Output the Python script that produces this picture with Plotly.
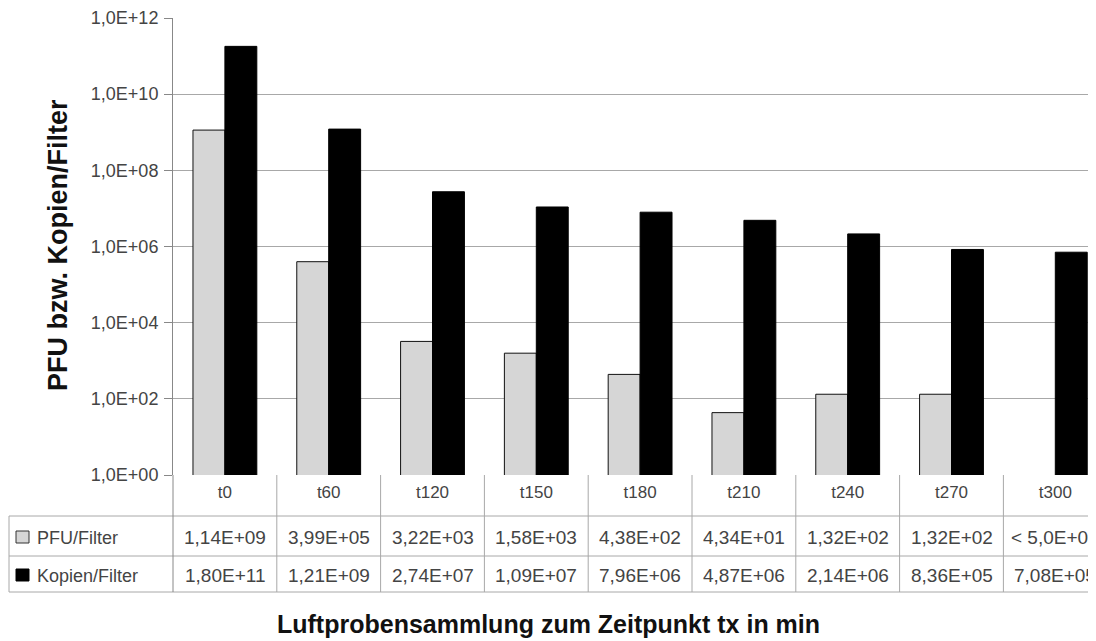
import plotly.graph_objects as go

categories = ["t0", "t60", "t120", "t150", "t180", "t210", "t240", "t270", "t300"]
pfu_values = [1.14e9, 3.99e5, 3.22e3, 1.58e3, 4.38e2, 4.34e1, 1.32e2, 1.32e2, None]
kopien_values = [1.80e11, 1.21e9, 2.74e7, 1.09e7, 7.96e6, 4.87e6, 2.14e6, 8.36e5, 7.08e5]
pfu_labels = ["1,14E+09", "3,99E+05", "3,22E+03", "1,58E+03", "4,38E+02", "4,34E+01", "1,32E+02", "1,32E+02", "< 5,0E+01"]
kopien_labels = ["1,80E+11", "1,21E+09", "2,74E+07", "1,09E+07", "7,96E+06", "4,87E+06", "2,14E+06", "8,36E+05", "7,08E+05"]
series_names = ["PFU/Filter", "Kopien/Filter"]
ytick_vals = [1, 1e2, 1e4, 1e6, 1e8, 1e10, 1e12]
ytick_text = ["1,0E+00", "1,0E+02", "1,0E+04", "1,0E+06", "1,0E+08", "1,0E+10", "1,0E+12"]

# page body has an 8px margin; work in screen coordinates and shift
OFF = 8
SW, SH = 1096, 641
W, H = SW - OFF, SH - OFF
L, T, B = 173 - OFF, 18 - OFF, 475 - OFF
PW = W - L
PH = B - T
CATW = 103.8

def px(sx):
    return (sx - OFF - L) / PW

def py(sy):
    return (B - (sy - OFF)) / PH

FONT = "Liberation Sans, Arial, sans-serif"
TXT = "#444444"
GRID = "#a8a8a8"

fig = go.Figure()
fig.add_trace(go.Bar(x=categories, y=pfu_values, name=series_names[0],
                     marker=dict(color="#d6d6d6", line=dict(color="#111111", width=1))))
fig.add_trace(go.Bar(x=categories, y=kopien_values, name=series_names[1],
                     marker=dict(color="#000000", line=dict(color="#000000", width=1))))

n = len(categories)
shapes = []
annotations = []

for yy in [516, 556, 592]:
    shapes.append(dict(type="line", xref="paper", yref="paper", x0=px(9), x1=1, y0=py(yy), y1=py(yy),
                       line=dict(color=GRID, width=1)))
shapes.append(dict(type="line", xref="paper", yref="paper", x0=px(9), x1=px(9), y0=py(516), y1=py(592),
                   line=dict(color=GRID, width=1)))
shapes.append(dict(type="line", xref="paper", yref="paper", x0=0, x1=0, y0=py(475), y1=py(592),
                   line=dict(color="#888888", width=1)))
for i in range(1, n + 1):
    shapes.append(dict(type="line", xref="x", yref="paper", x0=i - 0.5, x1=i - 0.5, y0=py(475), y1=py(592),
                       line=dict(color=GRID, width=1)))

# legend keys inside table
shapes.append(dict(type="rect", xref="paper", yref="paper", x0=px(16), x1=px(29), y0=py(543), y1=py(531),
                   fillcolor="#d6d6d6", line=dict(color="#333333", width=1)))
shapes.append(dict(type="rect", xref="paper", yref="paper", x0=px(16), x1=px(29), y0=py(581), y1=py(569),
                   fillcolor="#000000", line=dict(color="#000000", width=1)))
annotations.append(dict(text=series_names[0], xref="paper", yref="paper", x=px(35), y=py(538),
                        xanchor="left", yanchor="middle", showarrow=False, font=dict(size=18, color=TXT, family=FONT)))
annotations.append(dict(text=series_names[1], xref="paper", yref="paper", x=px(35), y=py(576),
                        xanchor="left", yanchor="middle", showarrow=False, font=dict(size=18, color=TXT, family=FONT)))

for i in range(n):
    annotations.append(dict(text=pfu_labels[i], xref="x", yref="paper", x=i, y=py(537),
                            xanchor="center", yanchor="middle", showarrow=False,
                            font=dict(size=19, color=TXT, family=FONT)))
    annotations.append(dict(text=kopien_labels[i], xref="x", yref="paper", x=i, y=py(575),
                            xanchor="center", yanchor="middle", showarrow=False,
                            font=dict(size=19, color=TXT, family=FONT)))

annotations.append(dict(text="<b>Luftprobensammlung zum Zeitpunkt tx in min</b>", xref="paper", yref="paper",
                        x=px(548), y=py(624), xanchor="center", yanchor="middle", showarrow=False,
                        font=dict(size=25, color="#111111", family=FONT)))
annotations.append(dict(text="<b>PFU bzw. Kopien/Filter</b>", xref="paper", yref="paper",
                        x=px(58), y=py(245), xanchor="center", yanchor="middle", textangle=-90, showarrow=False,
                        font=dict(size=27, color="#111111", family=FONT)))

fig.update_layout(
    width=W, height=H,
    margin=dict(l=L, r=0, t=T, b=H - B, pad=0),
    paper_bgcolor="white", plot_bgcolor="white",
    barmode="group", bargap=0.385, bargroupgap=0,
    showlegend=False,
    font=dict(family=FONT, color=TXT, size=18),
    shapes=shapes, annotations=annotations,
)
fig.update_xaxes(range=[-0.5, -0.5 + PW / CATW], showgrid=False, showline=False, ticks="",
                 tickfont=dict(size=17, color=TXT, family=FONT), ticklabelstandoff=5)
fig.update_yaxes(type="log", range=[0, 12], tickvals=ytick_vals, ticktext=ytick_text,
                 showgrid=True, gridcolor=GRID, gridwidth=1, showline=True, linecolor="#888888",
                 ticks="outside", ticklen=8, tickcolor="#888888",
                 tickfont=dict(size=18, color=TXT, family=FONT), ticklabelstandoff=2, zeroline=False)

fig.write_html("out.html")
